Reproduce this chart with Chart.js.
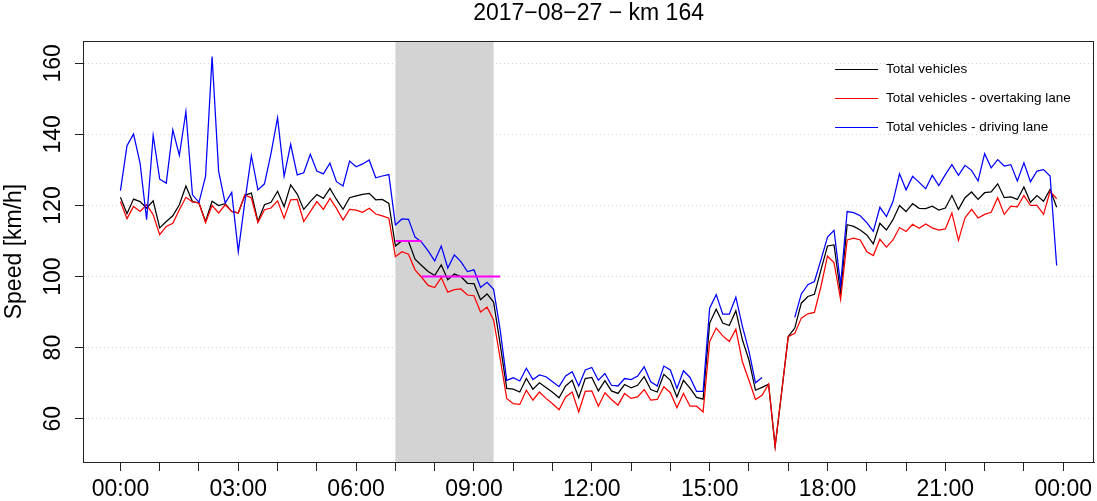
<!DOCTYPE html>
<html>
<head>
<meta charset="utf-8">
<script src="https://cdn.jsdelivr.net/npm/chart.js@4.4.1/dist/chart.umd.min.js"></script>
<style>
  html, body { margin: 0; padding: 0; background: #ffffff; }
  #wrap { width: 1097px; height: 501px; position: relative; }
</style>
</head>
<body>
<div id="wrap"><canvas id="c"></canvas></div>
<script>
// ---------- data ----------
const chartTitle = "2017\u221208\u221227 \u2212 km 164";
const yAxisTitle = "Speed [km/h]";

const times = [
  "00:00","00:10","00:20","00:30","00:40","00:50",
  "01:00","01:10","01:20","01:30","01:40","01:50",
  "02:00","02:10","02:20","02:30","02:40","02:50",
  "03:00","03:10","03:20","03:30","03:40","03:50",
  "04:00","04:10","04:20","04:30","04:40","04:50",
  "05:00","05:10","05:20","05:30","05:40","05:50",
  "06:00","06:10","06:20","06:30","06:40","06:50",
  "07:00","07:10","07:20","07:30","07:40","07:50",
  "08:00","08:10","08:20","08:30","08:40","08:50",
  "09:00","09:10","09:20","09:30","09:40","09:50",
  "10:00","10:10","10:20","10:30","10:40","10:50",
  "11:00","11:10","11:20","11:30","11:40","11:50",
  "12:00","12:10","12:20","12:30","12:40","12:50",
  "13:00","13:10","13:20","13:30","13:40","13:50",
  "14:00","14:10","14:20","14:30","14:40","14:50",
  "15:00","15:10","15:20","15:30","15:40","15:50",
  "16:00","16:10","16:20","16:30","16:40","16:50",
  "17:00","17:10","17:20","17:30","17:40","17:50",
  "18:00","18:10","18:20","18:30","18:40","18:50",
  "19:00","19:10","19:20","19:30","19:40","19:50",
  "20:00","20:10","20:20","20:30","20:40","20:50",
  "21:00","21:10","21:20","21:30","21:40","21:50",
  "22:00","22:10","22:20","22:30","22:40","22:50",
  "23:00","23:10","23:20","23:30","23:40","23:50"
];

// Total vehicles
const totalVehicles = [
  122.3,117.7,121.8,121.1,119.3,121.3,113.7,115.5,117.1,120.2,125.5,121.1,
  120.7,115.5,121.2,120.0,120.5,118.3,117.9,122.9,123.5,115.5,120.2,120.9,
  124.0,119.7,125.8,123.2,118.9,121.1,123.1,122.0,124.8,121.7,118.9,122.2,
  122.7,123.1,123.4,121.6,121.7,120.6,108.6,110.1,109.9,104.9,103.1,101.4,
  100.3,103.3,99.1,100.7,100.0,98.1,98.0,93.5,95.1,92.8,81.0,68.5,
  68.3,67.5,71.3,68.3,70.1,68.8,67.4,65.9,69.2,70.8,65.9,71.3,
  71.6,67.8,70.7,67.8,67.1,69.6,68.7,69.4,71.8,68.2,67.5,72.5,
  70.8,66.1,70.8,68.6,66.0,65.5,86.9,90.8,86.9,86.2,90.4,82.2,
  76.5,68.0,68.8,69.7,52.2,67.5,83.1,85.5,92.5,94.4,95.0,101.9,
  108.6,108.9,95.3,114.6,114.1,113.1,111.7,109.2,115.0,113.1,116.0,120.0,
  118.3,120.5,119.2,119.1,119.8,118.7,119.3,122.8,118.9,122.2,123.8,121.7,
  123.6,123.8,126.1,122.2,122.4,121.7,125.2,120.9,122.8,121.2,124.5,119.5
];

// Total vehicles - overtaking lane
const overtakingLane = [
  121.1,116.3,119.7,118.3,120.2,117.4,111.8,114.1,115.0,118.8,122.3,121.0,
  120.7,115.2,120.0,117.9,120.2,118.3,117.9,123.0,122.1,115.2,118.8,119.3,
  121.3,116.4,121.6,121.7,115.5,118.3,121.1,118.9,122.0,119.2,115.9,118.9,
  118.7,118.1,119.2,117.6,117.1,116.4,105.6,107.0,106.3,101.9,99.8,97.5,
  96.9,99.7,95.6,96.3,96.5,94.8,94.6,90.0,91.4,87.8,77.0,65.7,
  64.2,64.0,68.0,65.2,67.5,65.7,64.2,62.5,66.1,67.5,61.9,67.7,
  67.8,63.5,67.3,65.4,63.8,67.1,65.7,66.1,68.2,65.2,65.4,69.0,
  67.3,63.1,67.1,63.5,63.5,61.9,81.7,85.5,83.3,81.7,85.2,76.0,
  70.8,65.4,66.6,69.7,52.2,67.5,83.1,84.0,88.3,89.5,89.9,97.2,
  105.8,103.9,93.6,110.3,110.8,110.3,107.0,105.9,110.5,108.3,110.3,113.8,
  112.7,114.7,113.6,114.8,113.7,113.1,113.4,117.9,110.2,116.5,118.9,116.5,
  117.5,118.1,122.2,117.5,119.8,119.6,122.8,120.0,120.0,117.5,124.0,121.9
];

// Total vehicles - driving lane (null = no data)
const drivingLane = [
  124.2,136.8,140.1,131.9,116.0,139.7,127.4,126.3,141.3,134.1,146.4,123.0,
  120.9,128.2,161.9,129.6,120.7,123.7,107.0,121.0,134.0,124.4,126.1,134.7,
  144.7,128.2,137.2,128.6,129.2,134.4,129.7,128.9,131.9,126.7,125.5,132.5,
  130.9,131.7,132.8,127.8,128.3,128.7,114.5,116.2,116.1,111.1,109.7,107.2,
  104.4,108.6,102.4,106.1,104.2,101.4,101.9,96.9,98.4,96.4,85.0,70.8,
  71.5,70.6,74.2,71.0,72.3,71.8,70.4,69.0,72.0,73.2,69.2,73.7,
  74.4,70.8,72.7,69.4,69.2,71.3,71.0,72.0,74.6,70.4,69.2,74.8,
  73.7,68.5,73.5,71.6,67.7,67.7,91.1,94.9,89.4,89.4,94.2,86.0,
  79.0,70.1,71.6,null,null,null,null,88.5,95.1,97.7,98.6,104.7,
  111.1,113.0,97.7,118.3,118.0,117.1,115.2,112.7,119.5,116.9,121.1,128.9,
  124.4,128.2,126.5,124.7,128.5,125.6,128.7,131.5,128.5,131.3,129.9,126.9,
  134.6,130.6,132.9,131.1,131.5,126.9,132.0,126.7,129.7,130.1,128.3,103.1
];

// speed limit segments (magenta)
const limitFrom  = ["07:00", "07:40"];
const limitTo    = ["07:40", "09:40"];
const limitValue = [110, 100];

// shaded period
const shadeFrom = "07:00";
const shadeTo   = "09:30";

// axis ticks
const xTickHours  = [0,1,2,3,4,5,6,7,8,9,10,11,12,13,14,15,16,17,18,19,20,21,22,23,24];
const xTickLabels = ["00:00","03:00","06:00","09:00","12:00","15:00","18:00","21:00","00:00"];
const yTicks = [60, 80, 100, 120, 140, 160];

const seriesNames  = ["Total vehicles", "Total vehicles - overtaking lane", "Total vehicles - driving lane"];
const seriesColors = ["#000000", "#ff0000", "#0000ff"];

// ---------- helpers ----------
const FONT = "'Liberation Sans', Arial, Helvetica, sans-serif";
const toH = s => { const p = s.split(":").map(Number); return p[0] + p[1] / 60; };
const xs = times.map(toH);
const pts = arr => arr.map((v, i) => ({ x: xs[i], y: v }));

const datasets = [
  { label: seriesNames[0], data: pts(totalVehicles), borderColor: seriesColors[0], order: 3 },
  { label: seriesNames[1], data: pts(overtakingLane), borderColor: seriesColors[1], order: 2 },
  { label: seriesNames[2], data: pts(drivingLane), borderColor: seriesColors[2], order: 1 }
].map(d => Object.assign(d, { borderWidth: 1.25, pointRadius: 0, tension: 0, spanGaps: false, fill: false }));

limitValue.forEach((v, k) => {
  datasets.push({
    label: "_limit" + k,
    data: [{ x: toH(limitFrom[k]), y: v }, { x: toH(limitTo[k]), y: v }],
    borderColor: "#ff00ff", borderWidth: 2, pointRadius: 0, order: 0, isLimit: true
  });
});

// ---------- plugins ----------
const decorations = {
  id: "decorations",
  beforeDatasetsDraw(chart) {
    const { ctx, chartArea: a, scales: { x } } = chart;
    const x1 = x.getPixelForValue(toH(shadeFrom));
    const x2 = x.getPixelForValue(toH(shadeTo));
    ctx.save();
    ctx.fillStyle = "#d3d3d3";
    ctx.fillRect(x1, a.top, x2 - x1, a.bottom - a.top);
    ctx.restore();
  },
  afterDatasetsDraw(chart) {
    const { ctx, chartArea: a } = chart;
    ctx.save();
    // box
    ctx.strokeStyle = "#222";
    ctx.lineWidth = 1;
    const L = Math.round(a.left) + 0.5, T = Math.round(a.top) + 0.5;
    const R = Math.round(a.right) - 0.5, B = Math.round(a.bottom) + 0.5;
    ctx.strokeRect(L, T, R - L, B - T);
    // legend (inside plot, top-right)
    ctx.font = "13.5px " + FONT;
    ctx.textBaseline = "middle";
    ctx.textAlign = "left";
    seriesNames.forEach((name, k) => {
      const y = Math.round(a.top + 28 + k * 29) + 0.5;
      ctx.strokeStyle = seriesColors[k];
      ctx.lineWidth = 1;
      ctx.beginPath();
      ctx.moveTo(a.right - 259, y);
      ctx.lineTo(a.right - 216, y);
      ctx.stroke();
      ctx.fillStyle = "#000";
      ctx.fillText(name, a.right - 208, y);
    });
    // title
    ctx.font = "23px " + FONT;
    ctx.textAlign = "center";
    ctx.fillStyle = "#000";
    ctx.fillText(chartTitle, (a.left + a.right) / 2, 14);
    ctx.restore();
  }
};

// ---------- chart ----------
new Chart(document.getElementById("c"), {
  type: "line",
  data: { datasets },
  options: {
    responsive: true,
    maintainAspectRatio: false,
    animation: false,
    devicePixelRatio: 1,
    layout: { padding: { top: 41, right: 1, left: 0, bottom: 0 } },
    plugins: { legend: { display: false }, tooltip: { enabled: false }, title: { display: false } },
    scales: {
      x: {
        type: "linear",
        min: -0.953, max: 24.787,
        afterBuildTicks: s => { s.ticks = xTickHours.map(v => ({ value: v })); },
        afterFit: s => { s.height = 39; },
        ticks: {
          autoSkip: false, maxRotation: 0, minRotation: 0, padding: 5,
          color: "#000", font: { family: FONT, size: 23 },
          callback: v => (v % 3 === 0 ? xTickLabels[v / 3] : "")
        },
        grid: { drawOnChartArea: false, drawTicks: true, tickLength: 9, tickColor: "#222", color: "#222" },
        border: { display: true, color: "#222", width: 1 }
      },
      y: {
        type: "linear",
        min: 47.8, max: 166.3,
        afterBuildTicks: s => { s.ticks = yTicks.map(v => ({ value: v })); },
        afterFit: s => { s.width = 83; },
        ticks: {
          autoSkip: false, minRotation: 90, maxRotation: 90, crossAlign: "center", padding: 2,
          color: "#000", font: { family: FONT, size: 23 }
        },
        grid: { color: "#d4d4d4", lineWidth: 1, drawTicks: true, tickLength: 8, tickColor: "#222" },
        border: { display: true, color: "#222", width: 1, dash: [1, 3] },
        title: { display: true, text: yAxisTitle, color: "#000", font: { family: FONT, size: 23 }, padding: { top: 1, bottom: 0 } }
      }
    }
  },
  plugins: [decorations]
});
</script>
</body>
</html>
